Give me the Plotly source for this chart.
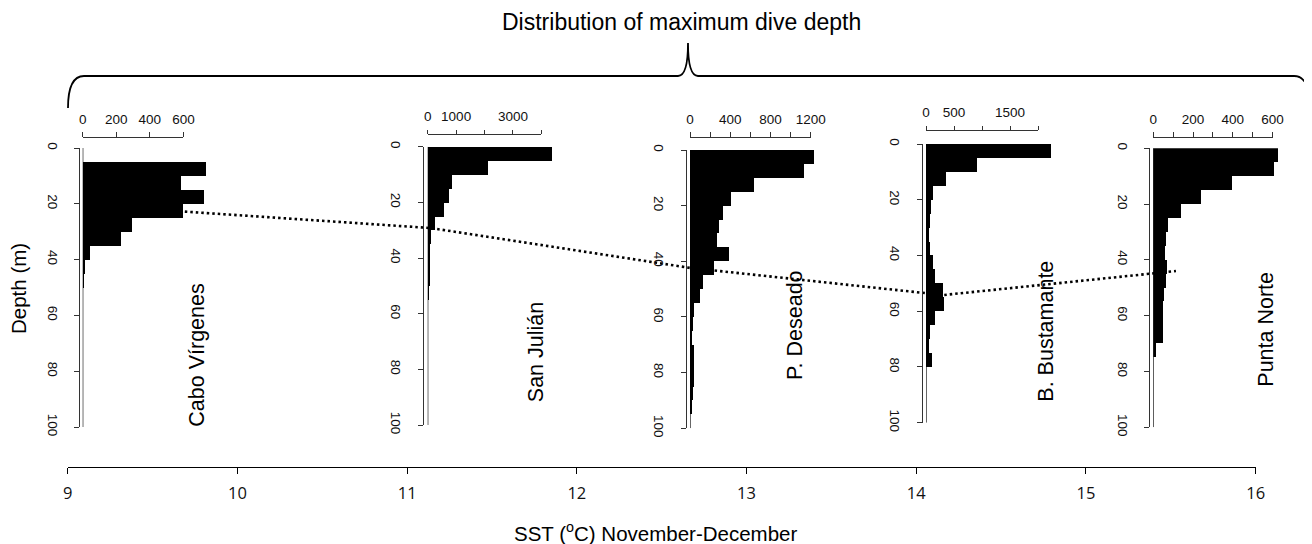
import plotly.graph_objects as go

# page body has an 8px margin, so the figure is drawn 8px in from the top-left
OFF = 8
W, H = 1312 - OFF, 544 - OFF

# ---------------- data ----------------
depth_edges = list(range(0, 105, 5))
depth_centers = [e + 2.5 for e in depth_edges[:-1]]

sites = ["Cabo Vírgenes", "San Julián", "P. Deseado", "B. Bustamante", "Punta Norte"]

cabo_virgenes = [0, 733, 584, 723, 596, 294, 228, 44, 12, 4, 0, 0, 0, 0, 0, 0, 0, 0, 0, 0]
san_julian = [4349, 2098, 856, 727, 574, 258, 105, 60, 80, 80, 35, 0, 0, 0, 0, 0, 0, 0, 0, 0]
p_deseado = [1234, 1134, 640, 408, 332, 285, 272, 385, 239, 129, 103, 43, 33, 20, 40, 43, 36, 27, 17, 0]
b_bustamante = [2226, 911, 357, 119, 83, 71, 60, 77, 119, 167, 298, 315, 155, 77, 60, 101, 0, 0, 0, 0]
punta_norte = [628, 608, 399, 243, 139, 75, 65, 60, 70, 65, 55, 49, 49, 49, 13, 0, 0, 0, 0, 0]
counts = [cabo_virgenes, san_julian, p_deseado, b_bustamante, punta_norte]

count_ticks = [[0, 200, 400, 600],
               [0, 1000, 2000, 3000, 4000],
               [0, 200, 400, 600, 800, 1000, 1200],
               [0, 500, 1000, 1500, 2000],
               [0, 100, 200, 300, 400, 500, 600]]
count_ticktext = [["0", "200", "400", "600"],
                  ["0", "1000", "", "3000", ""],
                  ["0", "", "400", "", "800", "", "1200"],
                  ["0", "500", "", "1500", ""],
                  ["0", "", "200", "", "400", "", "600"]]
depth_ticks = [0, 20, 40, 60, 80, 100]

mean_sst = [9.69, 11.14, 12.67, 14.16, 15.53]
mean_depth = [22.8, 28.7, 43.0, 52.7, 44.1]

sst_ticks = [9, 10, 11, 12, 13, 14, 15, 16]

# ---------------- layout geometry (screen pixels) ----------------
def PX(px):
    return (px - OFF) / W

def PY(py):
    return 1 - (py - OFF) / H

panels = [
    dict(axis_x=79.3, base_x=82.7, top_y=148.0, bot_y=427.0, px_per=100.7 / 600, line_y=136.7, lab=(196.7, 355)),
    dict(axis_x=422.7, base_x=427.7, top_y=146.7, bot_y=425.0, px_per=113.7 / 4000, line_y=134.3, lab=(535.7, 352.5)),
    dict(axis_x=685.7, base_x=690.0, top_y=150.0, bot_y=428.3, px_per=120.7 / 1200, line_y=136.7, lab=(795.0, 325)),
    dict(axis_x=921.7, base_x=926.0, top_y=144.0, bot_y=422.7, px_per=112.0 / 2000, line_y=130.0, lab=(1045.7, 331)),
    dict(axis_x=1149.3, base_x=1153.3, top_y=148.3, bot_y=427.3, px_per=119.3 / 600, line_y=136.7, lab=(1265.7, 329)),
]

AX_FONT = dict(family="Liberation Sans, Arial, sans-serif", size=13.5, color="#111")

fig = go.Figure()
layout = {}

# main SST axis + hidden depth axis for the dotted mean line
fig.add_trace(go.Scatter(
    x=mean_sst, y=mean_depth, mode="lines",
    line=dict(color="black", width=2.6, dash="2.5px,3px"),
    xaxis="x", yaxis="y", hoverinfo="skip", showlegend=False))

layout["xaxis"] = dict(
    domain=[PX(67.7), PX(1255.7)], range=[9, 16], anchor="free", position=PY(467.3),
    showline=True, linecolor="black", linewidth=1.3, ticks="outside", ticklen=6,
    tickwidth=1.3, tickcolor="black", tickvals=sst_ticks,
    tickfont=dict(family="Open Sans, sans-serif", size=16.5, color="#111"),
    ticklabelstandoff=5, showgrid=False, zeroline=False, automargin=False)
layout["yaxis"] = dict(domain=[PY(427), PY(148)], range=[100, 0], anchor="x",
                       visible=False, showgrid=False, zeroline=False, automargin=False)

annotations = []
for i, (p, c) in enumerate(zip(panels, counts)):
    xb = 2 + 2 * i
    xc = 3 + 2 * i
    yd = 2 + i
    rmax = max(c) * 1.06
    # bars
    fig.add_trace(go.Bar(
        x=c, y=depth_centers, orientation="h", width=5,
        marker=dict(color="black", line=dict(width=0)),
        xaxis=f"x{xb}", yaxis=f"y{yd}", hoverinfo="skip", showlegend=False))
    # zero-count baseline (histogram border along 0)
    fig.add_trace(go.Scatter(
        x=[0, 0], y=[depth_edges[0], depth_edges[-1]], mode="lines",
        line=dict(color="black", width=1.2),
        xaxis=f"x{xb}", yaxis=f"y{yd}", hoverinfo="skip", showlegend=False))
    # invisible trace to register the count axis
    fig.add_trace(go.Scatter(
        x=[count_ticks[i][0]], y=[depth_edges[0]], mode="markers",
        marker=dict(opacity=0, size=1),
        xaxis=f"x{xc}", yaxis=f"y{yd}", hoverinfo="skip", showlegend=False))

    layout[f"xaxis{xb}"] = dict(
        domain=[PX(p["base_x"]), PX(p["base_x"] + rmax * p["px_per"])],
        range=[0, rmax], anchor=f"y{yd}", visible=False,
        showgrid=False, zeroline=False, automargin=False)
    tmax = count_ticks[i][-1]
    layout[f"xaxis{xc}"] = dict(
        domain=[PX(p["base_x"]), PX(p["base_x"] + tmax * p["px_per"])],
        range=[0, tmax], side="top", anchor="free", position=PY(p["line_y"]),
        showline=True, linecolor="#333", linewidth=1, ticks="outside", ticklen=4.5,
        tickcolor="#333", tickwidth=1, tickvals=count_ticks[i], ticktext=count_ticktext[i],
        tickfont=AX_FONT, ticklabelstandoff=3, showgrid=False, zeroline=False,
        automargin=False)
    layout[f"yaxis{yd}"] = dict(
        domain=[PY(p["bot_y"]), PY(p["top_y"])], range=[100, 0],
        anchor="free", position=PX(p["axis_x"]), side="left",
        showline=True, linecolor="#333", linewidth=1, ticks="outside", ticklen=5,
        tickcolor="#333", tickwidth=1, tickvals=depth_ticks, tickangle=90,
        tickfont=AX_FONT, ticklabelstandoff=10, showgrid=False, zeroline=False,
        automargin=False)

    annotations.append(dict(
        x=PX(p["lab"][0]), y=PY(p["lab"][1]), xref="paper", yref="paper",
        text=sites[i], textangle=-90, showarrow=False,
        xanchor="center", yanchor="middle",
        font=dict(family="Liberation Sans, Arial, sans-serif", size=21.5, color="black")))

# axis titles and main title
annotations.append(dict(
    x=PX(18), y=PY(289), xref="paper", yref="paper", text="Depth (m)",
    textangle=-90, showarrow=False, xanchor="center", yanchor="middle",
    font=dict(family="Liberation Sans, Arial, sans-serif", size=20.5, color="black")))
annotations.append(dict(
    x=PX(655), y=PY(531.7), xref="paper", yref="paper",
    text="SST (<sup>o</sup>C) November-December", showarrow=False,
    xanchor="center", yanchor="middle",
    font=dict(family="Liberation Sans, Arial, sans-serif", size=20.5, color="black")))
annotations.append(dict(
    x=PX(681), y=PY(22), xref="paper", yref="paper",
    text="Distribution of maximum dive depth", showarrow=False,
    xanchor="center", yanchor="middle",
    font=dict(family="Liberation Sans, Arial, sans-serif", size=23, color="black")))

# curly brace over the panels
def P(px, py):
    return f"{PX(px):.5f},{PY(py):.5f}"

brace = (f"M {P(68,108)} Q {P(68,76)} {P(84,76)} L {P(678,76)} "
         f"Q {P(688,76)} {P(688,43)} Q {P(688,76)} {P(698,76)} "
         f"L {P(1294,76)} Q {P(1310,76)} {P(1310,108)}")
shapes = [dict(type="path", path=brace, xref="paper", yref="paper",
               line=dict(color="black", width=1.8))]

fig.update_layout(
    width=W, height=H, autosize=False,
    margin=dict(l=0, r=0, t=0, b=0, pad=0),
    paper_bgcolor="white", plot_bgcolor="rgba(0,0,0,0)",
    barmode="overlay", bargap=0, hovermode=False,
    showlegend=False, annotations=annotations, shapes=shapes,
    **layout)

fig.write_html("out.html")
